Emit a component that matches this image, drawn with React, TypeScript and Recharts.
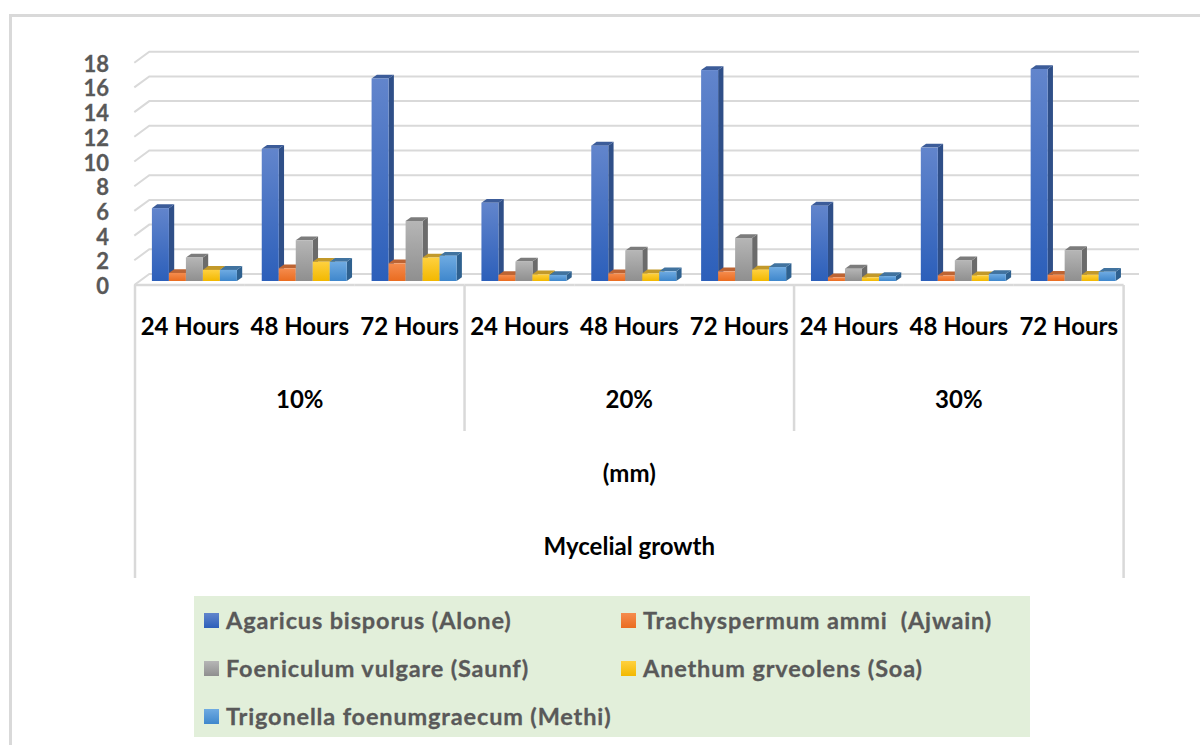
import { BarChart, Bar, XAxis, YAxis, CartesianGrid, Legend } from "recharts";

const TIMES = ["24 Hours", "48 Hours", "72 Hours", "24 Hours", "48 Hours", "72 Hours", "24 Hours", "48 Hours", "72 Hours"];
const DOSES = ["10%", "20%", "30%"];
const Y_TICKS = [0, 2, 4, 6, 8, 10, 12, 14, 16, 18];

const AGARICUS = [5.9, 10.7, 16.4, 6.34, 10.96, 17.08, 6.1, 10.8, 17.17];
const AJWAIN = [0.65, 1.03, 1.43, 0.49, 0.62, 0.78, 0.3, 0.46, 0.5];
const SAUNF = [1.9, 3.3, 4.86, 1.57, 2.46, 3.48, 1.0, 1.67, 2.5];
const SOA = [0.9, 1.56, 1.9, 0.54, 0.62, 0.92, 0.3, 0.46, 0.5];
const METHI = [0.9, 1.56, 2.05, 0.49, 0.78, 1.13, 0.4, 0.57, 0.75];

const chartData = TIMES.map((time, i) => ({
  time,
  agaricus: AGARICUS[i],
  ajwain: AJWAIN[i],
  saunf: SAUNF[i],
  soa: SOA[i],
  methi: METHI[i],
}));

const FONT = "Lato, Carlito, sans-serif";
const LINE = "#d9d9d9";
const BAND = 109.84;
const BAR_SHIFT = 4.9;

const SERIES = [
  { key: "agaricus", name: "Agaricus bisporus (Alone)", top: "#6285cc", bottom: "#2c5fba", side: "#2f4f88", cap: "#3c5c99" },
  { key: "ajwain", name: "Trachyspermum ammi  (Ajwain)", top: "#f58c4e", bottom: "#ea6c20", side: "#a9521f", cap: "#bd6433" },
  { key: "saunf", name: "Foeniculum vulgare (Saunf)", top: "#b6b6b6", bottom: "#8f8f8f", side: "#6b6b6b", cap: "#7c7c7c" },
  { key: "soa", name: "Anethum grveolens (Soa)", top: "#ffd13f", bottom: "#f2b800", side: "#a98300", cap: "#c2992a" },
  { key: "methi", name: "Trigonella foenumgraecum (Methi)", top: "#6fabe2", bottom: "#3f87cc", side: "#2f618f", cap: "#41739f" },
];

const makeBox = (side: string, cap: string) => (props: any) => {
  const { x, y, width, height, fill } = props;
  const dx = 5.3;
  const dy = 3.8;
  return (
    <g>
      <path d={`M${x + width},${y} l${dx},${-dy} v${height} l${-dx},${dy} z`} fill={side} />
      <path d={`M${x},${y} l${dx},${-dy} h${width} l${-dx},${dy} z`} fill={cap} />
      <rect x={x} y={y} width={width} height={height} fill={fill} />
    </g>
  );
};

const gridLine = (props: any) => {
  const { x1, x2, y1 } = props;
  return (
    <path
      key={`grid-${y1}`}
      d={`M${x1 - 5.6},${y1 + 4} L${x1 + 9.4},${y1 - 7} L${x2 + 10.5},${y1 - 7}`}
      fill="none"
      stroke={LINE}
      strokeWidth={2}
    />
  );
};

const YTick = (props: any) => (
  <text x={109} y={props.y + 13} textAnchor="end" fontFamily={FONT} fontWeight={700} fontSize={22} fill="#595959" stroke="#595959" strokeWidth={0.3}>
    {props.payload.value}
  </text>
);

const label = (x: number, y: number, text: string) => (
  <text x={x} y={y} textAnchor="middle" fontFamily={FONT} fontWeight={700} fontSize={24} fill="#000">
    {text}
  </text>
);

// multi level category axis: hours, dose, unit, title
const XTick = (props: any) => {
  const { x, index, payload } = props;
  const cx = x - BAR_SHIFT;
  const left = cx - BAND / 2;
  const right = cx + BAND / 2;
  return (
    <g>
      <line x1={left} x2={right} y1={285} y2={285} stroke={LINE} strokeWidth={2.5} />
      {label(cx, 335, payload.value)}
      {index % 3 === 1 && label(cx, 408, DOSES[(index - 1) / 3])}
      {index % 3 === 0 && (
        <line x1={left} x2={left} y1={285} y2={index === 0 ? 578 : 431} stroke={LINE} strokeWidth={2.5} />
      )}
      {index === 8 && <line x1={right} x2={right} y1={285} y2={578} stroke={LINE} strokeWidth={2.5} />}
      {index === 4 && label(cx, 482, "(mm)")}
      {index === 4 && label(cx, 555, "Mycelial growth")}
    </g>
  );
};

const LegendBox = ({ payload }: any) => (
  <div style={{ position: "relative", width: 836, height: 141, background: "#e2efda", fontFamily: FONT, fontWeight: 700, fontSize: 23.5, letterSpacing: 0.85, color: "#595959", WebkitTextStroke: "0.3px #595959" }}>
    {(payload || []).map((entry: any, i: number) => (
      <div
        key={entry.value}
        style={{ position: "absolute", left: i % 2 === 0 ? 10 : 427, top: 6 + 48 * Math.floor(i / 2), height: 36, display: "flex", alignItems: "center", whiteSpace: "pre" }}
      >
        <svg width={15} height={15} style={{ marginRight: 7 }}>
          <rect width={15} height={15} fill={entry.color} />
        </svg>
        {entry.value}
      </div>
    ))}
  </div>
);

export default function App() {
  return (
    <div style={{ position: "absolute", left: 0, top: 0, width: 1200, height: 745, overflow: "hidden", background: "#fff" }}>
      <div style={{ position: "absolute", left: 9, top: 14, width: 1191, height: 3, background: LINE }} />
      <div style={{ position: "absolute", left: 9, top: 14, width: 3, height: 731, background: LINE }} />
      <BarChart
        width={1200}
        height={745}
        data={chartData}
        barSize={17}
        barGap={0}
        margin={{ top: 58.7, right: 71.5, bottom: 164, left: 0 }}
      >
        <defs>
          {SERIES.map((s) => (
            <linearGradient key={s.key} id={`grad-${s.key}`} x1="0" y1="0" x2="0" y2="1">
              <stop offset="0%" stopColor={s.top} />
              <stop offset="100%" stopColor={s.bottom} />
            </linearGradient>
          ))}
        </defs>
        <CartesianGrid vertical={false} horizontal={gridLine} />
        <XAxis dataKey="time" height={300} interval={0} axisLine={false} tickLine={false} tick={XTick} />
        <YAxis width={139.9} domain={[0, 18]} ticks={Y_TICKS} interval={0} axisLine={false} tickLine={false} tick={YTick} />
        <Legend
          layout="horizontal"
          verticalAlign="middle"
          itemSorter={null}
          content={LegendBox}
          wrapperStyle={{ position: "absolute", left: 194, top: 596, width: 836, height: 141 }}
        />
        {SERIES.map((s) => (
          <Bar
            key={s.key}
            dataKey={s.key}
            name={s.name}
            fill={`url(#grad-${s.key})`}
            shape={makeBox(s.side, s.cap)}
            isAnimationActive={false}
          />
        ))}
      </BarChart>
    </div>
  );
}
